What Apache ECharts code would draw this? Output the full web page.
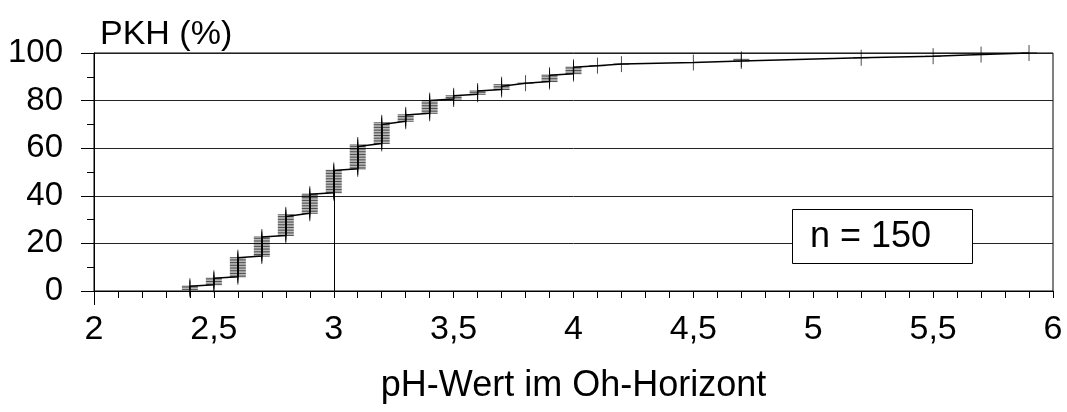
<!DOCTYPE html>
<html>
<head>
<meta charset="utf-8">
<script src="https://cdn.jsdelivr.net/npm/echarts@6/dist/echarts.min.js"></script>
<style>
html,body{margin:0;padding:0;background:#fff;}
#chart{width:1067px;height:412px;}
</style>
</head>
<body>
<div id="chart"></div>
<script>
// pH values (distinct) and number of samples at each value
const phValues = [2.4, 2.5, 2.6, 2.7, 2.8, 2.9, 3.0, 3.1, 3.2, 3.3, 3.4, 3.5, 3.6, 3.7, 3.8, 3.9, 4.0, 4.1, 4.2, 4.5, 4.7, 5.2, 5.5, 5.7, 5.9];
const counts   = [3,   5,   13,  13,  14,  13,  15,  16,  14,  5,   9,   3,   3,   4,   1,   5,   5,   1,   1,   1,   2,   1,   1,   1,   1];
const sampleSize = 150;
const referencePH = [3.0];
const xTickValues = [2, 2.5, 3, 3.5, 4, 4.5, 5, 5.5, 6];
const xTickLabels = ['2', '2,5', '3', '3,5', '4', '4,5', '5', '5,5', '6'];
const yTickValues = [0, 20, 40, 60, 80, 100];

// cumulative frequency points (one per sample)
const points = [];
let cum = 0;
const groupTop = {};
phValues.forEach((ph, i) => {
  for (let j = 0; j < counts[i]; j++) {
    cum += 1;
    points.push([ph, cum / sampleSize * 100]);
  }
  groupTop[ph] = cum / sampleSize * 100;
});

const FONT = 'Liberation Sans, Arial, sans-serif';
const FS = 34;
const chart = echarts.init(document.getElementById('chart'), null, {renderer: 'canvas'});

const option = {
  animation: false,
  backgroundColor: '#fff',
  title: {
    text: 'PKH (%)',
    left: 95, top: 13,
    textStyle: {fontFamily: FONT, fontSize: FS, fontWeight: 'normal', color: '#000'}
  },
  grid: {
    left: 94, right: 14, top: 53, bottom: 121,
    show: true, borderColor: '#000', borderWidth: 1, backgroundColor: 'transparent'
  },
  xAxis: {
    type: 'value', min: 2, max: 6, interval: 0.5,
    name: 'pH-Wert im Oh-Horizont',
    nameLocation: 'middle', nameGap: 77,
    nameTextStyle: {fontFamily: FONT, fontSize: 36, color: '#000'},
    axisLine: {show: true, lineStyle: {color: '#000', width: 1}},
    axisTick: {show: true, length: 7, lineStyle: {color: '#000'}},
    minorTick: {show: true, splitNumber: 5, length: 7, lineStyle: {color: '#000'}},
    splitLine: {show: false},
    axisLabel: {
      margin: 22, fontFamily: FONT, fontSize: FS, color: '#000',
      formatter: v => {
        const k = xTickValues.findIndex(t => Math.abs(t - v) < 1e-9);
        return k >= 0 ? xTickLabels[k] : '';
      }
    }
  },
  yAxis: {
    type: 'value', min: 0, max: 100, interval: 20,
    axisLine: {show: true, lineStyle: {color: '#000', width: 1}},
    axisTick: {show: true, length: 13, lineStyle: {color: '#000'}},
    minorTick: {show: true, splitNumber: 2, length: 7, lineStyle: {color: '#000'}},
    splitLine: {show: true, lineStyle: {color: '#222', width: 1}},
    axisLabel: {
      margin: 31, fontFamily: FONT, fontSize: 33, color: '#000',
      formatter: v => (yTickValues.indexOf(v) >= 0 ? String(v) : '')
    }
  },
  series: [{
    type: 'line',
    data: points,
    showAllSymbol: true,
    symbol: 'path://M8,0L8,16M0,8L16,8',
    symbolSize: 16,
    itemStyle: {color: 'transparent', borderColor: 'rgba(0,0,0,0.7)', borderWidth: 1},
    lineStyle: {color: '#000', width: 1.5},
    emphasis: {disabled: true},
    markLine: {
      silent: true,
      symbol: 'none',
      label: {show: false},
      lineStyle: {color: '#000', width: 1, type: 'solid'},
      data: referencePH.map(ph => [{coord: [ph, 0]}, {coord: [ph, groupTop[ph]]}])
    },
    z: 3
  }]
};
chart.setOption(option);

// extension of the y axis below zero and the sample-size box
const origin = chart.convertToPixel({gridIndex: 0}, [2, 0]);
chart.setOption({
  graphic: [
    {type: 'line', shape: {x1: Math.round(origin[0]) + 0.5, y1: origin[1], x2: Math.round(origin[0]) + 0.5, y2: origin[1] + 14},
     style: {stroke: '#000', lineWidth: 1}, z: 10},
    {type: 'rect', left: 792, top: 209, shape: {width: 180, height: 54},
     style: {fill: '#fff', stroke: '#000', lineWidth: 1}, z: 10},
    {type: 'text', x: 810, y: 237,
     style: {text: 'n = ' + sampleSize, fontFamily: FONT, fontSize: 36, fill: '#000', verticalAlign: 'middle'}, z: 11}
  ]
});
</script>
</body>
</html>
